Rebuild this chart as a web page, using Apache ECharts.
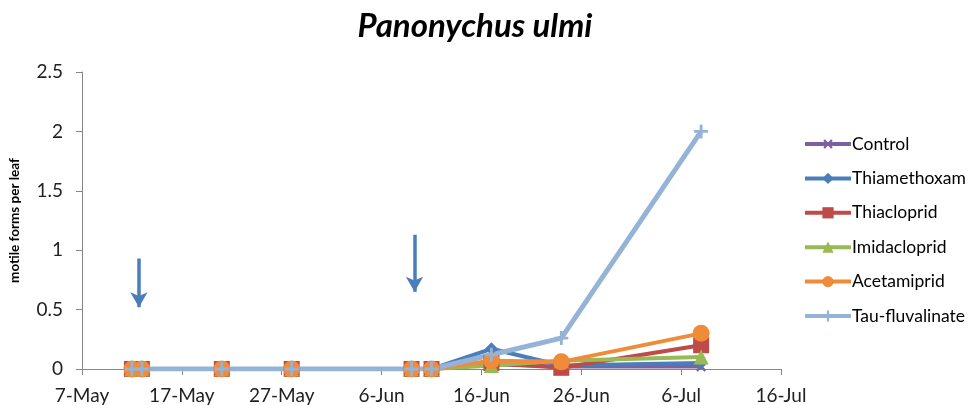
<!DOCTYPE html>
<html>
<head>
<meta charset="utf-8">
<script src="https://cdn.jsdelivr.net/npm/echarts@6/dist/echarts.min.js"></script>
<style>
    html, body { margin: 0; padding: 0; background: #fff; }
    #chart { width: 972px; height: 405px; }
</style>
</head>
<body>
<div id="chart"></div>
<script>
// sampling dates
var dates = ['12-May', '13-May', '21-May', '28-May', '9-Jun', '11-Jun', '17-Jun', '24-Jun', '8-Jul'];
// motile forms per leaf
var control      = [0, 0, 0, 0, 0, 0, 0.04, 0.02, 0.02];
var thiamethoxam = [0, 0, 0, 0, 0, 0, 0.17, 0.03, 0.05];
var thiacloprid  = [0, 0, 0, 0, 0, 0, 0.05, 0.01, 0.20];
var imidacloprid = [0, 0, 0, 0, 0, 0, 0.03, 0.07, 0.10];
var acetamiprid  = [0, 0, 0, 0, 0, 0, 0.07, 0.06, 0.30];
var tauFluval    = [0, 0, 0, 0, 0, 0, 0.12, 0.26, 2.00];
// treatment arrows (day offset from 7-May, top value, tip value)
var arrowDays = [5.7, 33.3];
var arrowTop  = [0.93, 1.13];
var arrowTip  = [0.52, 0.65];
// axis ticks
var yTicks = [0, 0.5, 1, 1.5, 2, 2.5];

var months = ['Jan','Feb','Mar','Apr','May','Jun','Jul','Aug','Sep','Oct','Nov','Dec'];
var base = Date.UTC(2013, 4, 7);
function dayOf(s) {
    var p = s.split('-');
    return (Date.UTC(2013, months.indexOf(p[1]), +p[0]) - base) / 864e5;
}
function dayLabel(d) {
    var dt = new Date(base + d * 864e5);
    return dt.getUTCDate() + '-' + months[dt.getUTCMonth()];
}
function pairs(vals) {
    return vals.map(function(v, i) { return [dayOf(dates[i]), v]; });
}

var plus = 'path://M4,0h2v4h4v2h-4v4h-2v-4h-4v-2h4z';
var font = 'Lato, "Open Sans", sans-serif';

function line(name, vals, color, symbol, size, extra) {
    var s = {
        name: name,
        type: 'line',
        data: pairs(vals),
        symbol: symbol,
        symbolSize: size,
        showSymbol: true,
        lineStyle: { color: color, width: 4 },
        itemStyle: { color: color },
        emphasis: { disabled: true }
    };
    for (var k in extra) s[k] = extra[k];
    return s;
}

var arrows = arrowDays.map(function(d, i) {
    return [{ coord: [d, arrowTop[i]] }, { coord: [d, arrowTip[i]] }];
});

var myChart = echarts.init(document.getElementById('chart'));
var option = {
    animation: false,
    title: {
        text: 'Panonychus ulmi',
        left: 470,
        top: 5,
        textAlign: 'center',
        textStyle: { fontFamily: font, fontSize: 33, fontWeight: 'bold', fontStyle: 'italic', color: '#000' }
    },
    grid: { left: 79, right: 191, top: 72, bottom: 36 },
    legend: {
        orient: 'vertical',
        left: 803,
        top: 135,
        padding: 0,
        itemWidth: 46,
        itemHeight: 14,
        itemGap: 16.4,
        lineStyle: { width: 4 },
        textStyle: { fontFamily: font, fontSize: 17.5, color: '#000', padding: [0, 0, 0, -4] },
        data: ['Control', 'Thiamethoxam', 'Thiacloprid', 'Imidacloprid', 'Acetamiprid', 'Tau-fluvalinate']
    },
    xAxis: {
        type: 'value',
        min: 0,
        max: 70,
        interval: 10,
        splitLine: { show: false },
        axisLine: { lineStyle: { color: '#868686', width: 1 } },
        axisTick: { show: true, length: 6, lineStyle: { color: '#868686' } },
        axisLabel: {
            margin: 17,
            fontFamily: font, fontSize: 19, color: '#222',
            formatter: function(v) { return dayLabel(v); }
        }
    },
    yAxis: {
        type: 'value',
        min: yTicks[0],
        max: yTicks[yTicks.length - 1],
        interval: 0.5,
        name: 'motile forms per leaf',
        nameLocation: 'middle',
        nameRotate: 90,
        nameGap: 60,
        nameTextStyle: { fontFamily: font, fontSize: 13.5, fontWeight: 'bold', color: '#000' },
        splitLine: { show: false },
        axisLine: { show: true, lineStyle: { color: '#868686', width: 1 } },
        axisTick: { show: true, length: 6, lineStyle: { color: '#868686' } },
        axisLabel: { margin: 19, fontFamily: font, fontSize: 19, color: '#222' }
    },
    series: [
        line('Control', control, '#7D60A0', plus, 12, { symbolRotate: 45 }),
        line('Thiamethoxam', thiamethoxam, '#4A7EBB', 'diamond', 13),
        line('Thiacloprid', thiacloprid, '#BE4B48', 'rect', 16),
        line('Imidacloprid', imidacloprid, '#98B954', 'triangle', 15),
        line('Acetamiprid', acetamiprid, '#F08B3A', 'circle', 17),
        line('Tau-fluvalinate', tauFluval, '#95B3D7', plus, 14, {
            lineStyle: { color: '#95B3D7', width: 5 },
            markLine: {
                silent: true,
                symbol: ['none', 'arrow'],
                symbolSize: [13, 15],
                label: { show: false },
                lineStyle: { color: '#4A7EBB', width: 3.5, type: 'solid' },
                data: arrows
            }
        })
    ]
};
myChart.setOption(option);
</script>
</body>
</html>
